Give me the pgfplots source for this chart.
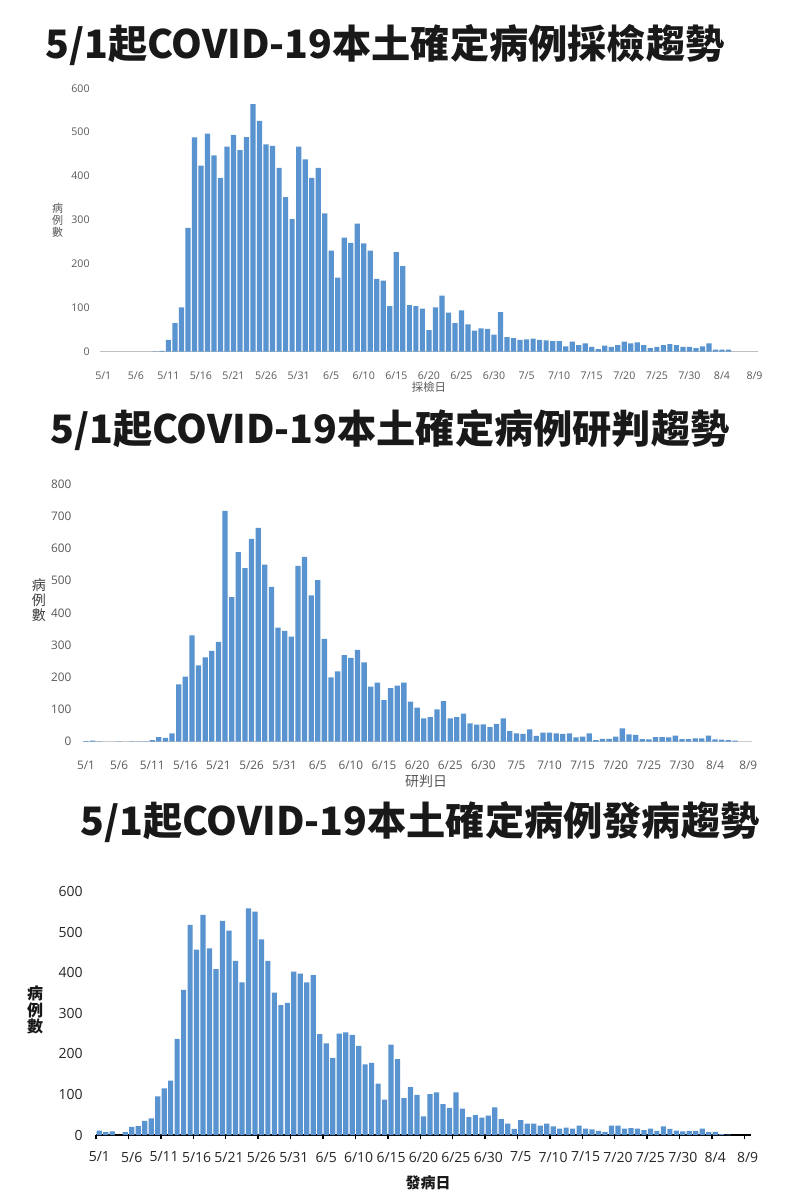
\documentclass[border=0pt]{standalone}
\usepackage{pgfplots}
\pgfplotsset{compat=1.18}
\usepackage{fontspec}
\setmainfont{Open Sans}
\newfontfamily\cjk{Noto Sans CJK TC}
\newfontfamily\tk{Open Sans}
\definecolor{barc}{RGB}{89,148,208}
\definecolor{lab}{RGB}{89,89,89}
\pgfplotsset{
  covid/.style={
    scale only axis, anchor=south west,
    xmin=-0.5, xmax=100.5, ymin=0,
    axis lines*=left,
    y axis line style={draw=none},
    ytick style={draw=none},
    major x tick style={draw=none},
    xtick={0,5,...,100},
    xticklabels={5/1,5/6,5/11,5/16,5/21,5/26,5/31,6/5,6/10,6/15,6/20,6/25,6/30,7/5,7/10,7/15,7/20,7/25,7/30,8/4,8/9},
    /pgf/number format/assume math mode=true,
    ybar, bar width=0.8,
    clip=false,
    yticklabel style={anchor=east, inner sep=0pt},
    xticklabel style={anchor=center, inner sep=0pt},
  }
}
\begin{document}
\begin{tikzpicture}
\path[use as bounding box, fill=white] (0,0) rectangle (400pt,-600pt);

% ---------- Panel 1 ----------
\node[font=\cjk\bfseries\fontsize{19.6}{22}\selectfont, text=black!90] at (192.5pt,-22.5pt) {5/1起COVID-19本土確定病例採檢趨勢};
\begin{axis}[covid, at={(50pt,-175.85pt)}, width=328.9pt, height=131.7pt,
  ymax=600, ytick={0,100,...,600},
  x axis line style={-, draw=black!25, line width=0.5pt},
  ticklabel style={font=\tk\fontsize{5.3}{6}\selectfont, text=lab},
  yticklabel style={xshift=-5pt},
  xticklabel style={yshift=-7.6pt}]
\addplot[fill=barc, draw=none] coordinates {
(8,1)(9,2)
(10,27)(11,65)(12,101)(13,282)(14,488)(15,424)(16,497)(17,447)(18,396)(19,467)
(20,494)(21,459)(22,489)(23,564)(24,526)(25,472)(26,469)(27,419)(28,352)(29,302)
(30,467)(31,438)(32,396)(33,419)(34,315)(35,230)(36,169)(37,260)(38,248)(39,292)
(40,247)(41,230)(42,166)(43,162)(44,104)(45,227)(46,195)(47,106)(48,104)(49,98)
(50,49)(51,101)(52,128)(53,89)(54,65)(55,94)(56,62)(57,48)(58,53)(59,52)
(60,39)(61,90)(62,33)(63,31)(64,27)(65,28)(66,30)(67,27)(68,26)(69,24)
(70,24)(71,12)(72,23)(73,15)(74,19)(75,11)(76,6)(77,14)(78,11)(79,15)
(80,23)(81,19)(82,21)(83,15)(84,8)(85,11)(86,15)(87,17)(88,15)(89,11)
(90,11)(91,8)(92,12)(93,19)(94,5)(95,5)(96,5)
};
\end{axis}
\node[font=\cjk\fontsize{5.5}{6}\selectfont, text=lab, align=center] at (28.75pt,-110pt) {病\\例\\數};
\node[font=\cjk\fontsize{5.7}{6}\selectfont, text=lab] at (214.5pt,-193.8pt) {採檢日};

% ---------- Panel 2 ----------
\node[font=\cjk\bfseries\fontsize{19.6}{22}\selectfont, text=black!90] at (195pt,-215pt) {5/1起COVID-19本土確定病例研判趨勢};
\begin{axis}[covid, at={(41.35pt,-370.83pt)}, width=334.4pt, height=128.8pt,
  ymax=800, ytick={0,100,...,800},
  x axis line style={-, draw=black!20, line width=0.5pt},
  ticklabel style={font=\tk\fontsize{5.9}{6.5}\selectfont, text=lab},
  yticklabel style={xshift=-5.5pt},
  xticklabel style={yshift=-7.6pt}]
\addplot[fill=barc, draw=none] coordinates {
(0,2)(1,3)(2,1)(5,1)(7,1)(8,1)(9,1)
(10,5)(11,14)(12,12)(13,26)(14,178)(15,202)(16,330)(17,237)(18,262)(19,282)
(20,310)(21,717)(22,449)(23,589)(24,539)(25,630)(26,664)(27,550)(28,481)(29,354)
(30,344)(31,326)(32,546)(33,574)(34,454)(35,502)(36,319)(37,200)(38,218)(39,269)
(40,260)(41,285)(42,246)(43,171)(44,183)(45,129)(46,166)(47,174)(48,183)(49,124)
(50,106)(51,72)(52,76)(53,100)(54,126)(55,72)(56,76)(57,87)(58,57)(59,53)
(60,54)(61,45)(62,55)(63,72)(64,33)(65,26)(66,24)(67,38)(68,18)(69,28)
(70,28)(71,26)(72,24)(73,26)(74,13)(75,16)(76,26)(77,5)(78,9)(79,9)
(80,16)(81,41)(82,23)(83,21)(84,8)(85,7)(86,14)(87,14)(88,13)(89,19)
(90,8)(91,8)(92,10)(93,10)(94,19)(95,7)(96,6)(97,5)(98,3)
};
\end{axis}
\node[font=\cjk\fontsize{7}{7.5}\selectfont, text=black!75, align=center] at (19.5pt,-300pt) {病\\例\\數};
\node[font=\cjk\fontsize{7}{7.5}\selectfont, text=lab] at (213pt,-390.5pt) {研判日};

% ---------- Panel 3 ----------
\node[font=\cjk\bfseries\fontsize{19.6}{22}\selectfont, text=black!90] at (210pt,-411pt) {5/1起COVID-19本土確定病例發病趨勢};
\begin{axis}[covid, at={(48.05pt,-567.5pt)}, width=327.4pt, height=121.7pt,
  ymax=600, ytick={0,100,...,600},
  x axis line style={-, draw=black, line width=0.7pt},
  minor xtick={-0.5,4.5,...,99.5},
  minor x tick style={draw=black, line width=0.7pt},
  tick align=outside, minor tick length=2.2pt, major tick length=0pt,
  ticklabel style={font=\tk\fontsize{7}{8}\selectfont, text=black!85},
  yticklabel style={xshift=-6.5pt},
  xticklabel style={yshift=-11pt}]
\addplot[fill=barc, draw=none] coordinates {
(0,11)(1,7)(2,9)(4,7)(5,20)(6,22)(7,35)(8,41)(9,95)
(10,115)(11,134)(12,237)(13,358)(14,518)(15,457)(16,543)(17,460)(18,409)(19,528)
(20,504)(21,429)(22,376)(23,559)(24,551)(25,482)(26,429)(27,351)(28,320)(29,326)
(30,403)(31,398)(32,376)(33,394)(34,249)(35,226)(36,190)(37,250)(38,253)(39,247)
(40,220)(41,174)(42,178)(43,127)(44,87)(45,223)(46,187)(47,91)(48,118)(49,99)
(50,46)(51,101)(52,105)(53,76)(54,67)(55,105)(56,65)(57,44)(58,49)(59,43)
(60,48)(61,68)(62,39)(63,28)(64,15)(65,37)(66,28)(67,28)(68,23)(69,28)
(70,21)(71,16)(72,18)(73,16)(74,23)(75,16)(76,14)(77,10)(78,7)(79,23)
(80,23)(81,16)(82,17)(83,16)(84,12)(85,16)(86,10)(87,21)(88,15)(89,11)
(90,9)(91,10)(92,10)(93,16)(94,7)(95,8)(96,2)(97,1)
};
\end{axis}
\node[font=\cjk\bfseries\fontsize{8}{8.4}\selectfont, text=black!90, align=center] at (17.5pt,-505pt) {病\\例\\數};
\node[font=\cjk\bfseries\fontsize{7.5}{8}\selectfont, text=black!90] at (214pt,-591.5pt) {發病日};
\end{tikzpicture}
\end{document}
